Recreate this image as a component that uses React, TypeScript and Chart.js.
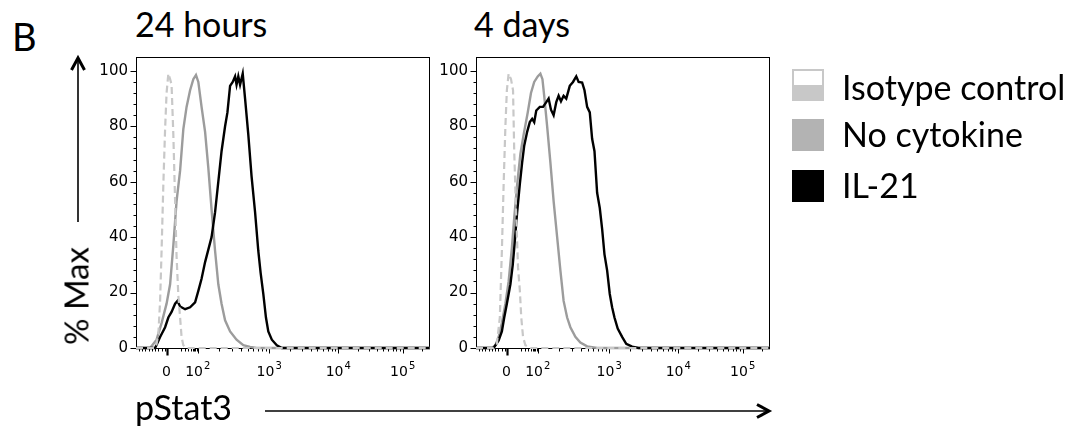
import React, { useEffect, useRef } from "react";
import { Chart, registerables } from "chart.js";
Chart.register(...registerables);

// ---- axis ticks (display channel units, 0..1000 across the plot box) ----
const xTickValues = [104, 210, 453, 688, 907];
const xTickBase = ["0", "10", "10", "10", "10"];
const xTickSup = ["", "2", "3", "4", "5"];
const yTickValues = [0, 20, 40, 60, 80, 100];

const panelTitles = ["24 hours", "4 days"];
const seriesNames = ["Isotype control", "No cytokine", "IL-21"];

// ---- 24 hours ----
const iso24X = [0, 65, 70, 76, 82, 87, 93, 99, 104, 110, 116, 121, 127, 133, 138, 144, 150, 155, 161, 172, 1000];
const iso24Y = [0, 0, 1.5, 5, 17, 35, 59, 79, 92, 99, 97, 95, 77, 53, 33, 19, 11, 4, 1, 0, 0];
const noCyt24X = [0, 48, 70, 87, 104, 116, 127, 138, 150, 161, 172, 184, 195, 204, 212, 223, 235, 246, 257, 269, 280, 291, 303, 320, 342, 365, 388, 410, 1000];
const noCyt24Y = [0, 0, 3, 9, 16, 23, 37, 53, 64, 79, 87, 93, 97, 98.5, 96, 87, 78, 65, 50, 35, 23, 16, 10, 6, 3, 1, 0.4, 0, 0];
const il21_24X = [0, 65, 82, 99, 110, 121, 133, 141, 150, 167, 184, 201, 212, 223, 235, 246, 257, 269, 280, 291, 303, 311, 320, 329, 337, 342, 348, 354, 363, 371, 382, 393, 405, 416, 424, 433, 442, 450, 462, 479, 496, 1000];
const il21_24Y = [0, 0, 4, 7.5, 11, 13, 16, 17, 15, 14, 14.7, 16.5, 20.6, 25, 31, 35.5, 40, 49, 60, 71, 80, 85, 94.6, 96, 98, 95, 98, 95, 99, 90, 77, 62, 49, 35, 27, 19.5, 11, 6, 3, 1, 0, 0];

// ---- 4 days ----
const iso4dX = [0, 60, 71, 81, 88, 94, 100, 105, 111, 119, 126, 130, 137, 143, 149, 154, 160, 168, 185, 1000];
const iso4dY = [0, 0, 1.5, 11, 35, 59, 80, 93, 99, 97, 93, 71, 47, 29, 21, 11, 4, 1, 0, 0];
const noCyt4dX = [0, 55, 66, 77, 88, 100, 111, 122, 130, 140, 151, 162, 176, 187, 198, 210, 219, 226, 232, 242, 253, 264, 276, 287, 298, 310, 321, 338, 355, 378, 412, 1000];
const noCyt4dY = [0, 0, 1, 4, 9, 16, 24, 36, 47, 59, 70, 77, 85, 92, 96, 98, 99, 97, 91, 80, 67, 53, 40, 28, 17, 11, 7.5, 4, 2, 0.6, 0, 0];
const il21_4dX = [0, 60, 77, 88, 96, 105, 117, 125, 130, 140, 149, 157, 164, 174, 183, 191, 198, 205, 217, 228, 239, 247, 255, 264, 273, 281, 289, 298, 307, 319, 330, 341, 349, 361, 369, 378, 387, 395, 403, 412, 421, 429, 437, 446, 455, 463, 471, 482, 497, 511, 531, 553, 1000];
const il21_4dY = [0, 0, 2.7, 6, 11, 16, 23, 30, 36, 49, 59, 67, 73, 78, 81.5, 82.7, 81.5, 85.7, 87, 87, 88.7, 90, 86, 84, 88.7, 91, 89, 91, 90, 94.6, 96, 98, 96, 95.8, 93, 87, 85, 75.5, 71, 56, 50.5, 43, 33.8, 28, 19.5, 14.7, 11, 7, 4, 1.5, 0.5, 0, 0];

const ISO_COLOR = "#c8c8c8";
const NOCYT_COLOR = "#9c9c9c";
const IL21_COLOR = "#000000";

const zip = (xs: number[], ys: number[]) => xs.map((x, i) => ({ x, y: ys[i] }));

const Y_AXIS_W = 56;
const PLOT_W = 294;
const PLOT_TOP = 14;
const X_AXIS_H = 42;
const TICK_FAMILY = "'DejaVu Sans', sans-serif";

const boxPlugin = {
  id: "flowBox",
  beforeDatasetsDraw(chart: any) {
    const { ctx, chartArea: a, scales } = chart;
    const xs = scales.x;
    const ys = scales.y;
    ctx.save();
    ctx.strokeStyle = "#000";
    ctx.lineWidth = 1;
    ctx.strokeRect(Math.round(a.left) + 0.5, Math.round(a.top) + 0.5, Math.round(a.right - a.left) - 1, Math.round(a.bottom - a.top));
    const bottom = Math.round(a.bottom) + 0.5;
    const left = Math.round(a.left) + 0.5;
    // y ticks
    for (let v = 0; v <= 100; v += 4) {
      const len = v % 20 === 0 ? 6 : 3;
      const py = Math.round(ys.getPixelForValue(v)) + 0.5;
      ctx.beginPath();
      ctx.moveTo(left - len, py);
      ctx.lineTo(left, py);
      ctx.stroke();
    }
    // x minor ticks
    const minor: number[] = [];
    for (let v = 10; v < xTickValues[0] - 4; v += 11) minor.push(v);
    for (let k = 2; k <= 9; k++) minor.push(xTickValues[1] - (1 - Math.log10(k)) * 80);
    for (let d = 1; d < xTickValues.length; d++) {
      const a0 = xTickValues[d];
      const span = d + 1 < xTickValues.length ? xTickValues[d + 1] - a0 : xTickValues[d] - xTickValues[d - 1];
      for (let k = 2; k <= 9; k++) {
        const p = a0 + Math.log10(k) * span;
        if (p < 1000) minor.push(p);
      }
    }
    minor.forEach((v) => {
      const px = Math.round(xs.getPixelForValue(v)) + 0.5;
      ctx.beginPath();
      ctx.moveTo(px, bottom);
      ctx.lineTo(px, bottom + 3);
      ctx.stroke();
    });
    xTickValues.forEach((v, i) => {
      const px = Math.round(xs.getPixelForValue(v)) + 0.5;
      ctx.lineWidth = i === 0 ? 2.2 : 1;
      ctx.beginPath();
      ctx.moveTo(px, bottom);
      ctx.lineTo(px, bottom + (i === 0 ? 7 : 5));
      ctx.stroke();
    });
    // x tick labels: base + superscript exponent
    ctx.fillStyle = "#000";
    ctx.textBaseline = "alphabetic";
    ctx.textAlign = "left";
    const baseY = Math.round(a.bottom) + 28;
    xTickValues.forEach((v, i) => {
      const px = xs.getPixelForValue(v);
      ctx.font = `14px ${TICK_FAMILY}`;
      const wb = ctx.measureText(xTickBase[i]).width;
      ctx.font = `10px ${TICK_FAMILY}`;
      const ws = xTickSup[i] ? ctx.measureText(xTickSup[i]).width + 1 : 0;
      const x0 = px - (wb + ws) / 2;
      ctx.font = `14px ${TICK_FAMILY}`;
      ctx.fillText(xTickBase[i], x0, baseY);
      if (xTickSup[i]) {
        ctx.font = `10px ${TICK_FAMILY}`;
        ctx.fillText(xTickSup[i], x0 + wb + 1, baseY - 7);
      }
    });
    ctx.restore();
  },
};

function Panel(props: { left: number; top: number; width: number; height: number; iso: any[]; noCyt: any[]; il21: any[] }) {
  const ref = useRef<HTMLCanvasElement>(null);
  useEffect(() => {
    const tickFont = { family: TICK_FAMILY, size: 15 };
    const chart = new Chart(ref.current as HTMLCanvasElement, {
      type: "line",
      data: {
        datasets: [
          { label: seriesNames[0], data: props.iso, borderColor: ISO_COLOR, borderWidth: 2.2, borderDash: [7, 4], pointRadius: 0, tension: 0, clip: false as any },
          { label: seriesNames[2], data: props.il21, borderColor: IL21_COLOR, borderWidth: 2.4, pointRadius: 0, tension: 0, clip: false as any },
          { label: seriesNames[1], data: props.noCyt, borderColor: NOCYT_COLOR, borderWidth: 2.4, pointRadius: 0, tension: 0, clip: false as any },
        ],
      },
      options: {
        animation: false,
        responsive: false,
        events: [],
        layout: { padding: { top: PLOT_TOP, left: 0, bottom: 0, right: props.width - Y_AXIS_W - PLOT_W } },
        plugins: { legend: { display: false }, tooltip: { enabled: false }, title: { display: false } },
        scales: {
          x: {
            type: "linear",
            min: 0,
            max: 1000,
            grid: { display: false, drawTicks: false },
            border: { display: false },
            afterBuildTicks: (s: any) => {
              s.ticks = xTickValues.map((v) => ({ value: v }));
            },
            afterFit: (s: any) => {
              s.height = X_AXIS_H;
            },
            ticks: { display: false },
          },
          y: {
            type: "linear",
            min: 0,
            max: 105,
            grid: { display: false, drawTicks: false },
            border: { display: false },
            afterBuildTicks: (s: any) => {
              s.ticks = yTickValues.map((v) => ({ value: v }));
            },
            afterFit: (s: any) => {
              s.width = Y_AXIS_W;
            },
            ticks: { padding: 8, color: "#000", font: tickFont },
          },
        },
      },
      plugins: [boxPlugin],
    } as any);
    return () => chart.destroy();
  }, []);
  return (
    <div style={{ position: "absolute", left: props.left, top: props.top, width: props.width, height: props.height }}>
      <canvas ref={ref} width={props.width} height={props.height} style={{ display: "block" }} />
    </div>
  );
}

const bigFont = "Lato, 'Open Sans', sans-serif";

export default function App() {
  const legendColors = [ISO_COLOR, "#b3b3b3", "#000000"];
  const legendTops = [69, 119, 170];
  const legendTextTops = [70, 117, 168];
  return (
    <div style={{ position: "fixed", left: 0, top: 0, width: 1075, height: 432, background: "#fff", overflow: "hidden", color: "#000" }}>
      <div style={{ position: "absolute", left: 12, top: 17, font: `38px ${bigFont}`, lineHeight: 1 }}>B</div>
      <div style={{ position: "absolute", left: 135, top: 7, font: `34px ${bigFont}`, lineHeight: 1, whiteSpace: "nowrap" }}>{panelTitles[0]}</div>
      <div style={{ position: "absolute", left: 474, top: 7, font: `34px ${bigFont}`, lineHeight: 1, whiteSpace: "nowrap" }}>{panelTitles[1]}</div>

      <Panel left={80} top={40} width={355} height={350} iso={zip(iso24X, iso24Y)} noCyt={zip(noCyt24X, noCyt24Y)} il21={zip(il21_24X, il21_24Y)} />
      <Panel left={420} top={40} width={360} height={350} iso={zip(iso4dX, iso4dY)} noCyt={zip(noCyt4dX, noCyt4dY)} il21={zip(il21_4dX, il21_4dY)} />

      <div
        style={{
          position: "absolute",
          left: 76,
          top: 296,
          font: `33px ${bigFont}`,
          lineHeight: 1,
          whiteSpace: "nowrap",
          transform: "translate(-50%, -50%) rotate(-90deg)",
        }}
      >
        % Max
      </div>
      <div style={{ position: "absolute", left: 135, top: 390, font: `34px ${bigFont}`, lineHeight: 1, whiteSpace: "nowrap" }}>pStat3</div>

      <svg width={1075} height={432} style={{ position: "absolute", left: 0, top: 0, pointerEvents: "none" }}>
        <line x1={78} y1={222} x2={78} y2={60} stroke="#000" strokeWidth={1.6} />
        <polyline points="71.5,70 78,58 84.5,70" fill="none" stroke="#000" strokeWidth={3} />
        <line x1={265} y1={411} x2={766} y2={411} stroke="#000" strokeWidth={1.6} />
        <polyline points="757,404.5 769,411 757,417.5" fill="none" stroke="#000" strokeWidth={3} />
      </svg>

      {seriesNames.map((name, i) => (
        <React.Fragment key={name}>
          <div
            style={{
              position: "absolute",
              left: 792,
              top: legendTops[i],
              width: 32,
              height: 32,
              boxSizing: "border-box",
              background: i === 0 ? `linear-gradient(to bottom, #fff 0 14px, ${legendColors[0]} 14px 100%)` : legendColors[i],
              border: i === 0 ? `2px solid ${legendColors[0]}` : "none",
            }}
          />
          <div style={{ position: "absolute", left: 842, top: legendTextTops[i], font: `34px ${bigFont}`, lineHeight: 1, whiteSpace: "nowrap" }}>{name}</div>
        </React.Fragment>
      ))}
    </div>
  );
}
